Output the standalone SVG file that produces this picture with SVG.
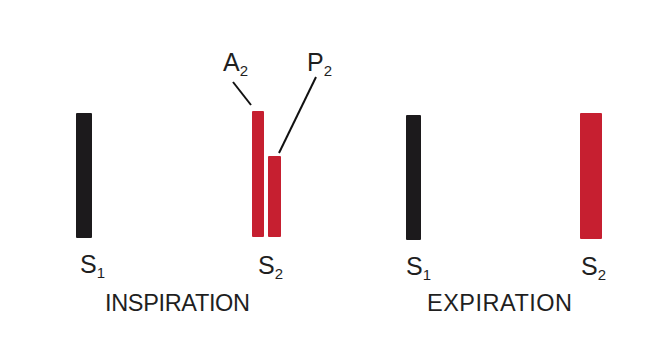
<svg xmlns="http://www.w3.org/2000/svg" width="654" height="339" viewBox="0 0 654 339">
<style>
.blk{fill:#1c1a1c}
.red{fill:#c61f30}
.lbl{font-family:"Liberation Sans",Arial,sans-serif;font-size:25px;fill:#1f1f1f}
.sub{font-size:15px}
.ttl{font-family:"Liberation Sans",Arial,sans-serif;font-size:23.5px;fill:#1f1f1f}
.lead{stroke:#111;stroke-width:2;fill:none}
</style>
<rect width="654" height="339" fill="#fff"/>
<g id="insp-s1">
<rect class="blk" x="76" y="113" width="16" height="125" rx="1"/>
<text class="lbl" x="80" y="273">S<tspan class="sub" dy="5">1</tspan></text>
</g>
<g id="insp-a2">
<rect class="red" x="252" y="111" width="12" height="126" rx="1"/>
<text class="lbl" x="223" y="71">A<tspan class="sub" dy="5">2</tspan></text>
</g>
<g id="insp-p2">
<rect class="red" x="268" y="156" width="13" height="81" rx="1"/>
<text class="lbl" x="307" y="71">P<tspan class="sub" dy="5">2</tspan></text>
</g>
<g id="insp-s2">
<text class="lbl" x="258" y="274">S<tspan class="sub" dy="5">2</tspan></text>
</g>
<g id="exp-s1">
<rect class="blk" x="406" y="115" width="15" height="125" rx="1"/>
<text class="lbl" x="406" y="275">S<tspan class="sub" dy="5">1</tspan></text>
</g>
<g id="exp-s2">
<rect class="red" x="580" y="113" width="22" height="126" rx="1"/>
<text class="lbl" x="581" y="275">S<tspan class="sub" dy="5">2</tspan></text>
</g>
<g id="titles">
<text class="ttl" x="105" y="310.5" textLength="145">INSPIRATION</text>
<text class="ttl" x="427" y="311" textLength="145">EXPIRATION</text>
</g>
<g id="connectors">
<line class="lead" x1="233" y1="82" x2="251" y2="105"/>
<line class="lead" x1="316" y1="77" x2="279" y2="153"/>
</g>
</svg>
